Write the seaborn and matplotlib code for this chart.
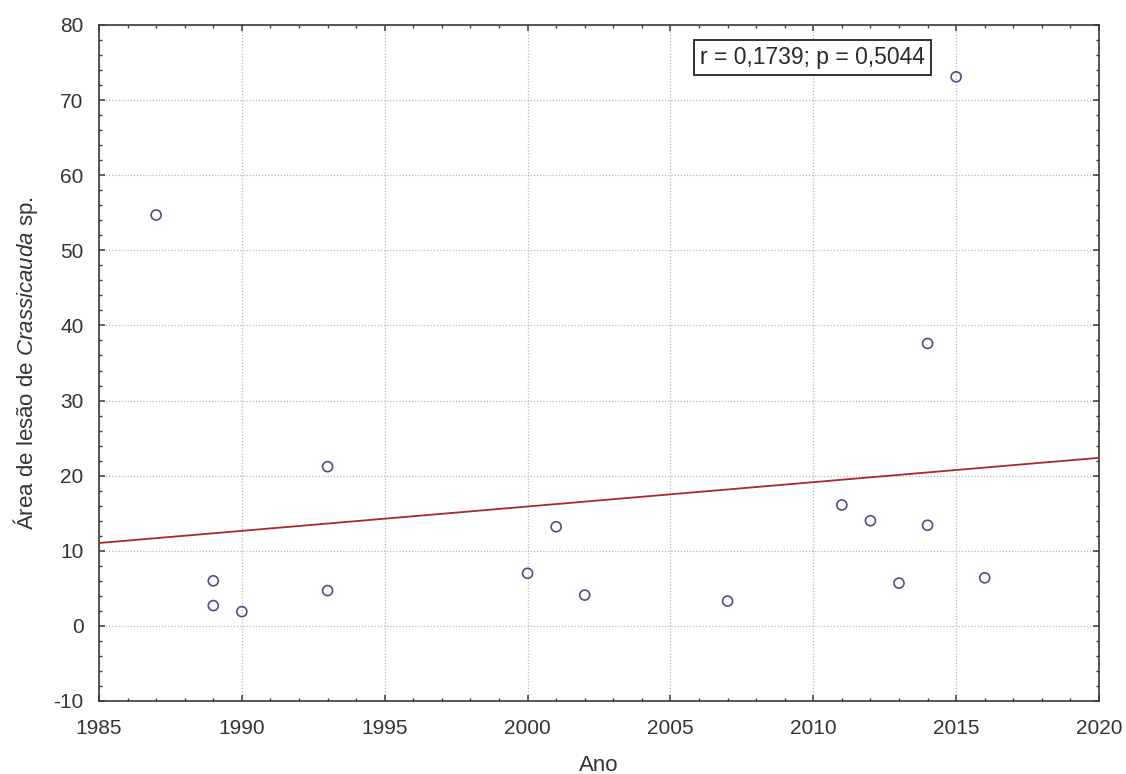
import numpy as np
import pandas as pd
import matplotlib
matplotlib.use("Agg")
import matplotlib.pyplot as plt
import seaborn as sns
from matplotlib.ticker import MultipleLocator

# Year of stranding and lesion area
anos = [1987, 1989, 1989, 1990, 1993, 1993, 2000, 2001, 2002, 2007,
        2011, 2012, 2013, 2014, 2014, 2015, 2016]
area_lesao = [54.7, 6.0, 2.7, 1.9, 21.2, 4.7, 7.0, 13.2, 4.1, 3.3,
              16.1, 14.0, 5.7, 37.6, 13.4, 73.1, 6.4]

x_ticks = [1985, 1990, 1995, 2000, 2005, 2010, 2015, 2020]
y_ticks = [-10, 0, 10, 20, 30, 40, 50, 60, 70, 80]
stats_label = "r = 0,1739; p = 0,5044"

df = pd.DataFrame({"Ano": anos, "Area": area_lesao})

sns.set_theme(style="white")
plt.rcParams["font.family"] = ["Liberation Sans", "DejaVu Sans"]
plt.rcParams["mathtext.fontset"] = "custom"
plt.rcParams["mathtext.rm"] = "Liberation Sans"
plt.rcParams["mathtext.it"] = "Liberation Sans:italic"
plt.rcParams["axes.unicode_minus"] = False

fig = plt.figure(figsize=(11.26, 7.74), dpi=100)
ax = fig.add_axes([99 / 1126, 1 - 701 / 774, 1000 / 1126, 676 / 774])

ax.set_xlim(x_ticks[0], x_ticks[-1])
ax.set_ylim(y_ticks[0], y_ticks[-1])

text_color = "#333333"
spine_color = "#3a3a3a"

sns.regplot(data=df, x="Ano", y="Area", ax=ax, ci=None, truncate=False,
            scatter_kws=dict(s=52, facecolors="none", edgecolors="#23236a",
                             linewidths=1.2, zorder=4),
            line_kws=dict(color="#a8282e", linewidth=1.3, zorder=3))

ax.set_xticks(x_ticks)
ax.set_yticks(y_ticks)
ax.xaxis.set_minor_locator(MultipleLocator(1))
ax.yaxis.set_minor_locator(MultipleLocator(2))
ax.tick_params(axis="both", which="both", direction="in",
               top=True, right=True, bottom=True, left=True,
               colors=spine_color, labelcolor=text_color)
ax.tick_params(axis="both", which="major", length=4, width=1.1, labelsize=15)
ax.tick_params(axis="both", which="minor", length=2.5, width=1.0)
ax.tick_params(axis="x", which="major", pad=13)
ax.tick_params(axis="y", which="major", pad=11)

ax.grid(True, which="major", linestyle=(0, (1, 1.5)), color="#b8b8b8",
        linewidth=0.9, zorder=0)
ax.set_axisbelow(True)

for sp in ax.spines.values():
    sp.set_color(spine_color)
    sp.set_linewidth(1.2)
    sp.set_visible(True)

ax.set_xlabel("Ano", fontsize=16, color=text_color, labelpad=12)
ax.set_ylabel(r"Área de lesão de $\mathit{Crassicauda}$ sp.", fontsize=16,
              color=text_color, labelpad=10)

ax.text(0.7135, 0.952, stats_label, transform=ax.transAxes,
        ha="center", va="center", fontsize=16.5, color="#2a2a2a", zorder=6,
        bbox=dict(boxstyle="square,pad=0.28", facecolor="white",
                  edgecolor="#222222", linewidth=1.3))

fig.savefig("out.png", dpi=100)
